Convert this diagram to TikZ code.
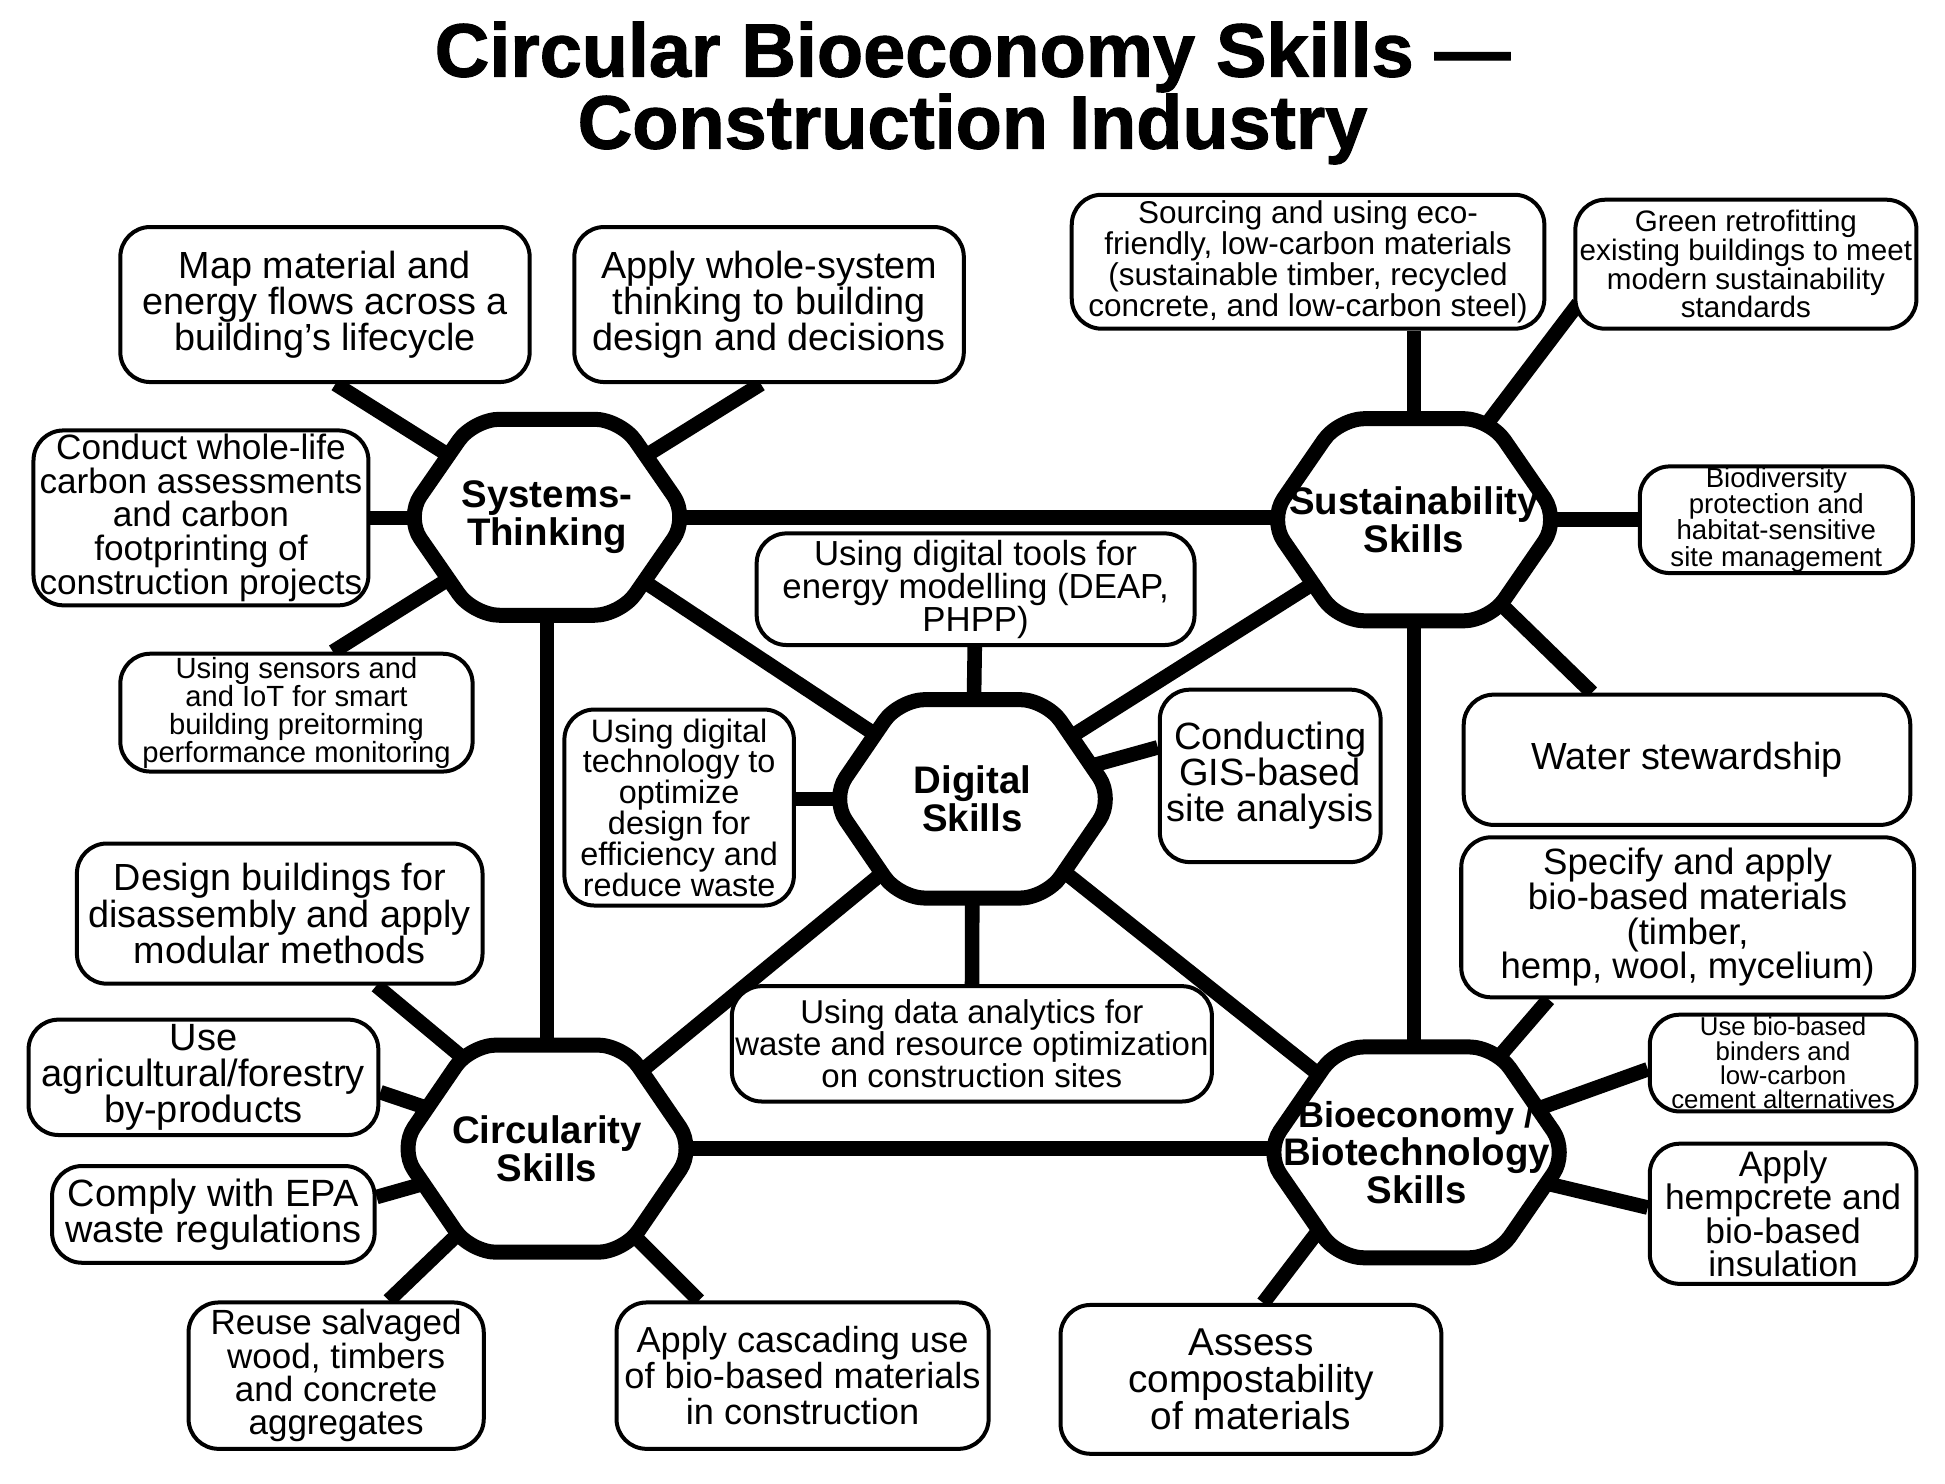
\documentclass[tikz,border=0pt]{standalone}
\usepackage{fontspec}
\setmainfont{Liberation Sans}
\newfontfamily\titlefont[FakeBold=1.5]{Liberation Sans Bold}
\usetikzlibrary{calc,backgrounds}
\newcommand\fsz[2]{\fontsize{#1pt}{#2pt}\selectfont\lineskiplimit=-100pt\lineskip=0pt\relax}
\tikzset{
  box/.style={draw, line width=2pt, rounded corners=15pt, fill=white, inner sep=0pt, align=center},
  bx/.style 2 args={minimum width=#1*0.6202pt, minimum height=#2*0.6202pt},
  hexlabel/.style={font=\bfseries\fsz{19.2}{19.0}, align=center, inner sep=0pt},
  hexpath/.style={draw, line width=7.5pt, fill=white, rounded corners=13pt, line join=round},
  conn/.style={line width=7.3pt}
}
\newcommand\hexat[5]{%
  \coordinate (#1c) at (#2);
  \draw[hexpath] ([shift={(-#3,0)}]#1c) -- ([shift={(-0.52*#3,-#4)}]#1c) -- ([shift={(0.52*#3,-#4)}]#1c)
     -- ([shift={(#3,0)}]#1c) -- ([shift={(0.52*#3,#4)}]#1c) -- ([shift={(-0.52*#3,#4)}]#1c) -- cycle;
  \node[hexlabel] (#1) at (#1c) {#5};}
\begin{document}
\begin{tikzpicture}[x=0.6202pt, y=-0.6202pt]
\useasboundingbox (0,0) rectangle (1568,1196);

% title
\node[font=\titlefont\fsz{37.8}{36}, align=center, inner sep=0pt] (title) at (784,75)
  {Circular Bioeconomy Skills —\\Construction Industry};

% hexagons
\hexat{sys}{441,417}{114}{79}{Systems-\\Thinking}
\hexat{sust}{1140,419}{117}{81.5}{Sustainability\\Skills}
\hexat{dig}{784,644}{114}{80}{Digital\\Skills}
\hexat{circ}{441,926}{119}{83.5}{Circularity\\Skills}
\hexat{bio}{1142,929}{122}{85}{\fsz{18.0}{17.7}Bioeconomy /\\Biotechnology\\Skills}

% Systems-Thinking boxes
\node[box, bx={330}{125}, font=\fsz{18.9}{18.0}] (b1) at (262,245.5)
  {Map material and\\energy flows across a\\building's lifecycle};
\node[box, bx={314}{125}, font=\fsz{18.9}{18.0}] (b2) at (620,245.5)
  {Apply whole-system\\thinking to building\\design and decisions};
\node[box, bx={270}{141}, font=\fsz{17.6}{16.8}] (b3) at (162,417.5)
  {Conduct whole-life\\carbon assessments\\and carbon\\footprinting of\\construction projects};
\node[box, bx={284}{95}, font=\fsz{14.6}{14.0}] (b4) at (239,574.5)
  {Using sensors and\\and IoT for smart\\building preitorming\\performance monitoring};

% Sustainability boxes
\node[box, bx={381}{108}, font=\fsz{15.75}{15.5}] (b5) at (1054.5,211)
  {Sourcing and using eco-\\friendly, low-carbon materials\\(sustainable timber, recycled\\concrete, and low-carbon steel)};
\node[box, bx={275}{104}, font=\fsz{14.8}{14.3}] (b6) at (1407.5,213)
  {Green retrofitting\\existing buildings to meet\\modern sustainability\\standards};
\node[box, bx={220}{86}, font=\fsz{13.8}{13.1}] (b7) at (1432,419)
  {Biodiversity\\protection and\\habitat-sensitive\\site management};
\node[box, bx={360}{105}, font=\fsz{18.9}{18}] (b8) at (1360,612.5)
  {Water stewardship};

% Digital boxes
\node[box, bx={353}{90}, font=\fsz{17.4}{16.6}] (b9) at (786.5,475)
  {Using digital tools for\\energy modelling (DEAP,\\PHPP)};
\node[box, bx={185}{158}, font=\fsz{16.2}{15.4}] (b10) at (547.5,651)
  {Using digital\\technology to\\optimize\\design for\\efficiency and\\reduce waste};
\node[box, bx={178}{139}, font=\fsz{19.0}{18.0}] (b11) at (1024,625.5)
  {Conducting\\GIS-based\\site analysis};
\node[box, bx={387}{93}, font=\fsz{16.5}{16.1}] (b12) at (783.5,841.5)
  {Using data analytics for\\waste and resource optimization\\on construction sites};

% Circularity boxes
\node[box, bx={327}{113}, font=\fsz{18.9}{18.3}] (b13) at (225.5,736.5)
  {Design buildings for\\disassembly and apply\\modular methods};
\node[box, bx={282}{93}, font=\fsz{19.0}{18.0}] (b14) at (164,868.5)
  {Use\\agricultural/forestry\\by-products};
\node[box, bx={260}{78}, font=\fsz{19.0}{18.0}] (b15) at (172,979)
  {Comply with EPA\\waste regulations};
\node[box, bx={238}{118}, font=\fsz{17.5}{16.7}] (b16) at (271,1109)
  {Reuse salvaged\\wood, timbers\\and concrete\\aggregates};
\node[box, bx={300}{118}, font=\fsz{18.1}{18.0}] (b17) at (647,1109)
  {Apply cascading use\\of bio-based materials\\in construction};

% Bioeconomy boxes
\node[box, bx={365}{129}, font=\fsz{18.3}{17.4}] (b18) at (1360.5,739.5)
  {Specify and apply\\bio-based materials\\(timber,\\hemp, wool, mycelium)};
\node[box, bx={215}{78}, font=\fsz{12.9}{12.2}] (b19) at (1437.5,857)
  {Use bio-based\\binders and\\low-carbon\\cement alternatives};
\node[box, bx={215}{113}, font=\fsz{17.7}{16.8}] (b20) at (1437.5,978.5)
  {Apply\\hempcrete and\\bio-based\\insulation};
\node[box, bx={307}{120}, font=\fsz{19.4}{18.4}] (b21) at (1008.5,1112)
  {Assess\\compostability\\of materials};

% connectors
\begin{scope}[on background layer]
  \draw[conn] (sys.center) -- (sys.center -| sust.center);
  \draw[conn] (sys.center) -- (dig.center);
  \draw[conn] (sys.center) -- (sys.center |- circ.center);
  \draw[conn] (sust.center) -- (dig.center);
  \draw[conn] (sust.center) -- (sust.center |- bio.center);
  \draw[conn] (dig.center) -- (circ.center);
  \draw[conn] (dig.center) -- (bio.center);
  \draw[conn] (circ.center) -- (circ.center -| bio.center);

  \draw[conn] ($(b1.south west)+(175,0)$) -- (sys.center);
  \draw[conn] ($(b2.south west)+(152,0)$) -- (sys.center);
  \draw[conn] (b3.center) -- (b3.center -| sys.center);
  \draw[conn] ($(b4.north west)+(173,0)$) -- (sys.center);

  \draw[conn] (sust.center |- b5.south) -- (sust.center);
  \draw[conn] ($(b6.south west)+(4,-22)$) -- (sust.center);
  \draw[conn] (b7.center) -- (b7.center -| sust.center);
  \draw[conn] ($(b8.north west)+(105,0)$) -- (sust.center);

  \draw[conn] (b9.center) -- (dig.center);
  \draw[conn] (b10.center |- dig.center) -- (dig.center);
  \draw[conn] ($(b11.west)+(0,-23)$) -- (dig.center);
  \draw[conn] (b12.center) -- (dig.center);

  \draw[conn] ($(b13.south west)+(243,0)$) -- ($(circ.center)+(20,0)$);
  \draw[conn] ($(b14.east)+(0,12)$) -- (circ.center);
  \draw[conn] ($(b15.east)+(0,-14)$) -- (circ.center);
  \draw[conn] ($(b16.north west)+(163,0)$) -- (circ.center);
  \draw[conn] ($(b17.north west)+(68,0)$) -- (circ.center);

  \draw[conn] ($(b18.south west)+(72,0)$) -- (bio.center);
  \draw[conn] ($(b19.west)+(0,5)$) -- (bio.center);
  \draw[conn] ($(b20.west)+(0,-5)$) -- (bio.center);
  \draw[conn] ($(b21.north west)+(165,0)$) -- ($(bio.center)+(-31,0)$);
\end{scope}
\end{tikzpicture}
\end{document}
